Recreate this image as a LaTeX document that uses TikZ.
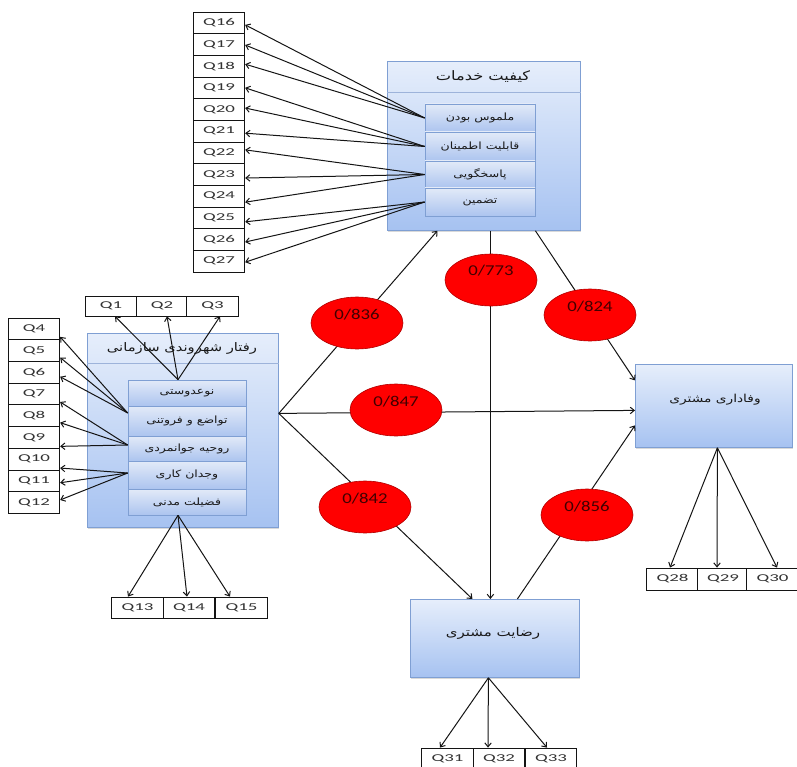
\documentclass[tikz,border=0pt]{standalone}
\usepackage{fontspec}
\setmainfont{Carlito}
\newfontfamily\fa[Script=Arabic,FakeStretch=1.25]{DejaVu Sans}
\newfontfamily\qf[FakeStretch=1.8]{Carlito}
\newfontfamily\nf[FakeStretch=1.25]{Carlito}
\TeXXeTstate=1
\usetikzlibrary{arrows.meta,shapes.geometric,calc,shadows}
\definecolor{boxtop}{HTML}{E6EEFB}
\definecolor{boxbot}{HTML}{A6C2F1}
\definecolor{rowtop}{HTML}{E2EAF8}
\definecolor{rowbot}{HTML}{ACC4EF}
\definecolor{boxline}{HTML}{7F9FD3}
\definecolor{sepcol}{HTML}{9DB3DA}
\definecolor{ellred}{HTML}{FF0000}
\definecolor{ellline}{HTML}{B00000}
\definecolor{ink}{HTML}{141414}
\begin{document}
\begin{tikzpicture}[x=1pt,y=-1pt,
  bigbox/.style={draw=boxline, line width=0.8pt, top color=boxtop, bottom color=boxbot, inner sep=0pt, anchor=north west,
     drop shadow={shadow xshift=1pt, shadow yshift=-1.5pt, opacity=0.3}},
  rowbox/.style={draw=boxline, line width=0.6pt, top color=rowtop, bottom color=rowbot, inner sep=0pt, minimum width=#1, font=\fa\fontsize{10}{11}\selectfont, text=black!90},
  qbox/.style={draw=ink, fill=white, line width=0.8pt, inner sep=0pt, minimum width=51.5pt, minimum height=21.7pt, font=\qf\fontsize{10.5}{11}\selectfont, text=black!80},
  ttl/.style={inner sep=0pt, text=black!90},
  ell/.style={ellipse, draw=ellline, fill=ellred, line width=0.6pt, minimum width=92pt, minimum height=52pt, inner sep=0pt,
     font=\nf\fontsize{15}{16}\selectfont, text=black!75!red, text height=8pt, text depth=16pt},
  arr/.style={draw=ink, line width=1pt, -{Straight Barb[length=4pt,width=6.5pt]}},
  sep/.style={draw=sepcol, line width=0.6pt}
]
\useasboundingbox (0,0) rectangle (797,767);

% ---------- top box: service quality ----------
\node[bigbox, minimum width=193pt, minimum height=169pt] (kq) at (387,61) {};
\draw[sep] ($(kq.north west)+(0,31)$) -- ($(kq.north east)+(0,31)$);
\node[ttl, font=\fa\fontsize{13}{14}\selectfont] (kqt) at (483,76.5) {\beginR کیفیت خدمات\endR};
\node[rowbox=110pt, minimum height=28pt] (kq1) at (480,118) {\beginR ملموس بودن\endR};
\node[rowbox=110pt, minimum height=29pt] (kq2) at (480,146.5) {\beginR قابلیت اطمینان\endR};
\node[rowbox=110pt, minimum height=27pt] (kq3) at (480,174.5) {\beginR پاسخگویی\endR};
\node[rowbox=110pt, minimum height=28pt] (kq4) at (480,202) {\beginR تضمین\endR};

% ---------- left box: OCB ----------
\node[bigbox, minimum width=191pt, minimum height=194pt] (ocb) at (87,333) {};
\draw[sep] ($(ocb.north west)+(0,30)$) -- ($(ocb.north east)+(0,30)$);
\node[ttl, font=\fa\fontsize{11.8}{13}\selectfont] (ocbt) at (182,348) {\beginR رفتار شهروندی سازمانی\endR};
\node[rowbox=118pt, minimum height=26pt] (ob1) at (187,393) {\beginR نوعدوستی\endR};
\node[rowbox=118pt, minimum height=30pt] (ob2) at (187,421) {\beginR تواضع و فروتنی\endR};
\node[rowbox=118pt, minimum height=25pt] (ob3) at (187,448.5) {\beginR روحیه جوانمردی\endR};
\node[rowbox=118pt, minimum height=28pt] (ob4) at (187,475) {\beginR وجدان کاری\endR};
\node[rowbox=118pt, minimum height=26pt] (ob5) at (187,502) {\beginR فضیلت مدنی\endR};

% ---------- right box: loyalty ----------
\node[bigbox, minimum width=157pt, minimum height=83pt] (vm) at (635,364) {};
\node[ttl, font=\fa\fontsize{11}{12}\selectfont] (vmt) at (715,400) {\beginR وفاداری مشتری\endR};

% ---------- bottom box: satisfaction ----------
\node[bigbox, minimum width=169pt, minimum height=78pt] (rm) at (410,599) {};
\node[ttl, font=\fa\fontsize{12}{13}\selectfont] (rmt) at (493,633) {\beginR رضایت مشتری\endR};

% ---------- Q boxes ----------
\node[qbox, minimum height=20pt] (q1) at (111,306) {Q1};
\node[qbox, minimum height=20pt] (q2) at (162,306) {Q2};
\node[qbox, minimum height=20pt] (q3) at (212.5,306) {Q3};
\foreach \i in {4,...,12}
  \node[qbox] (q\i) at (34,{318+21.7*(\i-4+0.5)}) {Q\i};
\node[qbox, minimum height=21pt] (q13) at (137.5,607.5) {Q13};
\node[qbox, minimum height=21pt] (q14) at (189,607.5) {Q14};
\node[qbox, minimum height=21pt] (q15) at (241.5,607.5) {Q15};
\foreach \i in {16,...,27}
  \node[qbox] (q\i) at (219,{12+21.67*(\i-16+0.5)}) {Q\i};
\node[qbox, minimum height=22pt] (q28) at (672.5,579) {Q28};
\node[qbox, minimum height=22pt] (q29) at (723,579) {Q29};
\node[qbox, minimum height=22pt] (q30) at (772.5,579) {Q30};
\node[qbox, minimum height=21pt] (q31) at (447.5,758.5) {Q31};
\node[qbox, minimum height=21pt] (q32) at (499,758.5) {Q32};
\node[qbox, minimum height=21pt] (q33) at (551,758.5) {Q33};

% ---------- indicator arrows ----------
\foreach \i/\s/\dy in {16/kq1/2, 17/kq1/0.5, 18/kq1/-2, 19/kq2/0, 20/kq2/-1.5, 21/kq2/2,
                       22/kq3/-3, 23/kq3/3.5, 24/kq3/6, 25/kq4/4, 26/kq4/2.5, 27/kq4/1}
  \draw[arr] (\s.west) -- ($(q\i.east)+(0,\dy)$);

\coordinate (g1) at ($(ob2.west)+(0,-8)$);
\coordinate (g2) at ($(ob3.west)+(0,-3.5)$);
\coordinate (g3) at ($(ob4.west)+(0,-2)$);
\foreach \i/\s/\dy in {4/g1/8, 5/g1/7, 6/g1/4.5, 7/g2/8, 8/g2/7, 9/g2/9, 10/g3/9, 11/g3/2, 12/g3/-2.5}
  \draw[arr] (\s) -- ($(q\i.east)+(0,\dy)$);

\coordinate (gt) at ($(ob1.north)+(-9,0)$);
\foreach \i/\dx in {1/4, 2/5, 3/7.5}
  \draw[arr] (gt) -- ($(q\i.south)+(\dx,0)$);
\coordinate (gb) at ($(ob5.south)+(-9,0)$);
\foreach \i/\dx in {13/-9.5, 14/-2, 15/-11.5}
  \draw[arr] (gb) -- ($(q\i.north)+(\dx,0)$);
\coordinate (gv) at ($(vm.south)+(3.5,0)$);
\foreach \i/\dx in {28/-2.5, 29/-6, 30/4.5}
  \draw[arr] (gv) -- ($(q\i.north)+(\dx,0)$);
\coordinate (gr) at ($(rm.south)+(-6.5,0)$);
\foreach \i/\dx in {31/-7.5, 32/-11, 33/-4}
  \draw[arr] (gr) -- ($(q\i.north)+(\dx,0)$);

% ---------- structural paths ----------
\coordinate (os) at ($(ocb.east)+(0,-17)$);
\draw[arr] (os) -- ($(kq.south)+(-46.5,0)$);
\draw[arr] (os) -- ($(vm.west)+(0,4.5)$);
\draw[arr] (os) -- ($(rm.north)+(-22.5,0)$);
\draw[arr] ($(kq.south)+(6.5,0)$) -- ($(rm.north)+(-4.5,0)$);
\draw[arr] ($(kq.south)+(51.5,0)$) -- ($(vm.west)+(0,-25.5)$);
\draw[arr] ($(rm.north)+(22.5,0)$) -- ($(vm.west)+(0,19.5)$);

% ---------- coefficients ----------
\node[ell] (e1) at (357,323) {0/836};
\node[ell] (e2) at (491,280) {0/773};
\node[ell] (e3) at (590,315) {0/824};
\node[ell] (e4) at (396,410) {0/847};
\node[ell] (e5) at (365,507) {0/842};
\node[ell] (e6) at (587,515) {0/856};
\end{tikzpicture}
\end{document}
